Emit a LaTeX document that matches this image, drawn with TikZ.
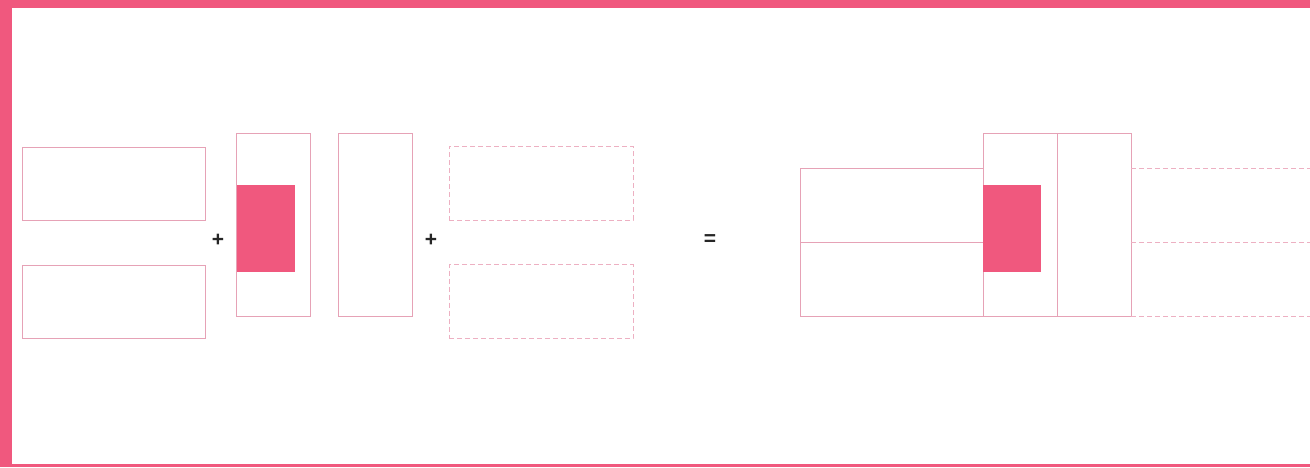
\documentclass[tikz,border=0pt]{standalone}
\usepackage{fontspec}
\setmainfont{Liberation Sans}
\definecolor{rose}{HTML}{F0587E}
\definecolor{edge}{HTML}{E6A2B6}
\definecolor{dash}{HTML}{EDB0C2}
\begin{document}
\begin{tikzpicture}[x=1pt,y=-1pt,
  box/.style={draw=edge,line width=0.9pt,inner sep=0pt,outer sep=0pt,fill=white},
  dbox/.style={draw=dash,line width=0.9pt,dash pattern=on 5pt off 3pt,inner sep=0pt,outer sep=0pt},
  solid block/.style={fill=rose,inner sep=0pt,outer sep=0pt},
  op/.style={inner sep=0pt,text=black!85,font=\fontsize{21}{21}\selectfont\bfseries},
  dline/.style={draw=dash,line width=0.9pt,dash pattern=on 5pt off 3pt}]
\useasboundingbox (0,0) rectangle (1310,467);
% frame
\fill[rose] (0,0) rectangle (1310,8);
\fill[rose] (0,0) rectangle (12,467);
\fill[rose] (0,464) rectangle (1310,467);
% left group
\node[box,minimum width=183,minimum height=73] (a1) at (113.5,183.5) {};
\node[box,minimum width=183,minimum height=73] (a2) at (113.5,301.5) {};
\node[op] (p1) at (218,240) {+};
\node[box,minimum width=74,minimum height=183] (b) at (273,224.5) {};
\node[solid block,minimum width=58,minimum height=87,anchor=north west] (bf) at (237,185) {};
\node[box,minimum width=74,minimum height=183] (c) at (375,224.5) {};
\node[op] (p2) at (431,240) {+};
\node[dbox,minimum width=184,minimum height=74] (d1) at (541,183) {};
\node[dbox,minimum width=184,minimum height=74] (d2) at (541,301.5) {};
\node[op] (eq) at (710,240) {=};
% result
\node[box,minimum width=183,minimum height=148,anchor=north west] (r1) at (800,168) {};
\draw[edge,line width=0.9pt] (r1.west) -- (r1.east);
\node[box,minimum width=74,minimum height=183,anchor=north west] (rb) at (983,133) {};
\node[solid block,minimum width=58,minimum height=87,anchor=north west] (rbf) at (983,185) {};
\node[box,minimum width=74,minimum height=183,anchor=north west] (rc) at (1057,133) {};
\coordinate (e1) at (1310,168);
\coordinate (e2) at (1310,242);
\coordinate (e3) at (1310,316);
\coordinate (s1) at (1131,168);
\coordinate (s2) at (1131,242);
\draw[dline] (s1) -- (e1);
\draw[dline] (s2) -- (e2);
\draw[dline] (rc.south east) -- (e3);
\end{tikzpicture}
\end{document}
